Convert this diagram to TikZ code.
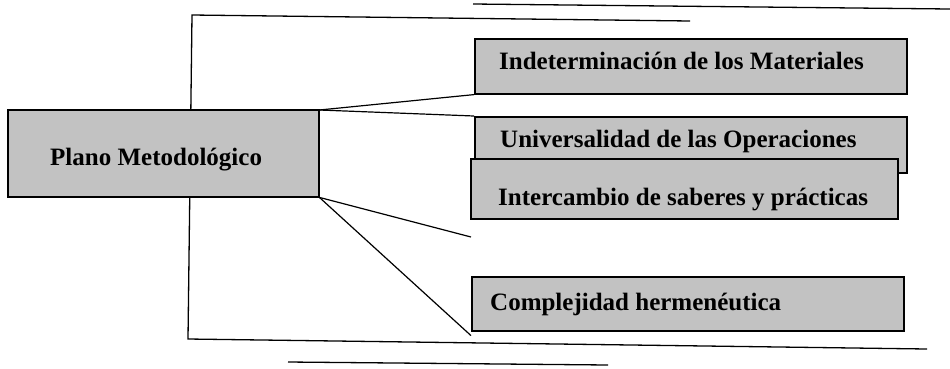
\documentclass[tikz,border=0pt]{standalone}
\usepackage{fontspec}
\setmainfont{Liberation Serif}
\begin{document}
\begin{tikzpicture}[x=1pt,y=-1pt,
  boxshape/.style={draw=black, line width=1.6pt, fill=black!24, inner sep=0pt},
  boxtext/.style={anchor=base west, inner sep=0pt, font=\fontsize{25}{30}\selectfont\bfseries},
  conn/.style={draw=black, line width=1.2pt},
  rule/.style={draw=black, line width=1.3pt}]
\useasboundingbox (0,0) rectangle (950,368);
% loose rules
\coordinate (ra1) at (473,4);
\coordinate (ra2) at (950,9);
\draw[rule] (ra1) -- (ra2);
\coordinate (rb1) at (288,362);
\coordinate (rb2) at (608,365);
\draw[rule] (rb1) -- (rb2);
% bracket
\coordinate (bt) at (690,21);
\coordinate (btl) at (192,15);
\coordinate (bbl) at (188,339);
\coordinate (bb) at (927,349);
\draw[rule] (bt) -- (btl) -- (bbl) -- (bb);
% main box
\path[boxshape] (8,110) rectangle (319,197);
\node[minimum width=311pt, minimum height=87pt, anchor=north west, inner sep=0pt] (main) at (8,110) {};
\node[boxtext] (maintext) at (50,165) {Plano Metodológico};
% right boxes
\node[boxshape, minimum width=432pt, minimum height=55pt, anchor=north west] (b1) at (474,38) {};
\node[boxtext] (t1) at (499,69) {Indeterminación de los Materiales};
\node[boxshape, minimum width=432pt, minimum height=56pt, anchor=north west] (b2) at (474,116) {};
\node[boxtext] (t2) at (500,147) {Universalidad de las Operaciones};
\node[boxshape, minimum width=427pt, minimum height=60pt, anchor=north west] (b3) at (470,158) {};
\node[boxtext] (t3) at (498,205) {Intercambio de saberes y prácticas};
\node[boxshape, minimum width=432pt, minimum height=54pt, anchor=north west] (b4) at (471,276) {};
\node[boxtext] (t4) at (490,310) {Complejidad hermenéutica};
% connectors
\coordinate (free) at (471,237);
\draw[conn] (main.north east) -- (b1.south west);
\draw[conn] (main.north east) -- (b2.north west);
\draw[conn] (main.south east) -- (free);
\draw[conn] (main.south east) -- ([yshift=-4pt]b4.south west);
\end{tikzpicture}
\end{document}
